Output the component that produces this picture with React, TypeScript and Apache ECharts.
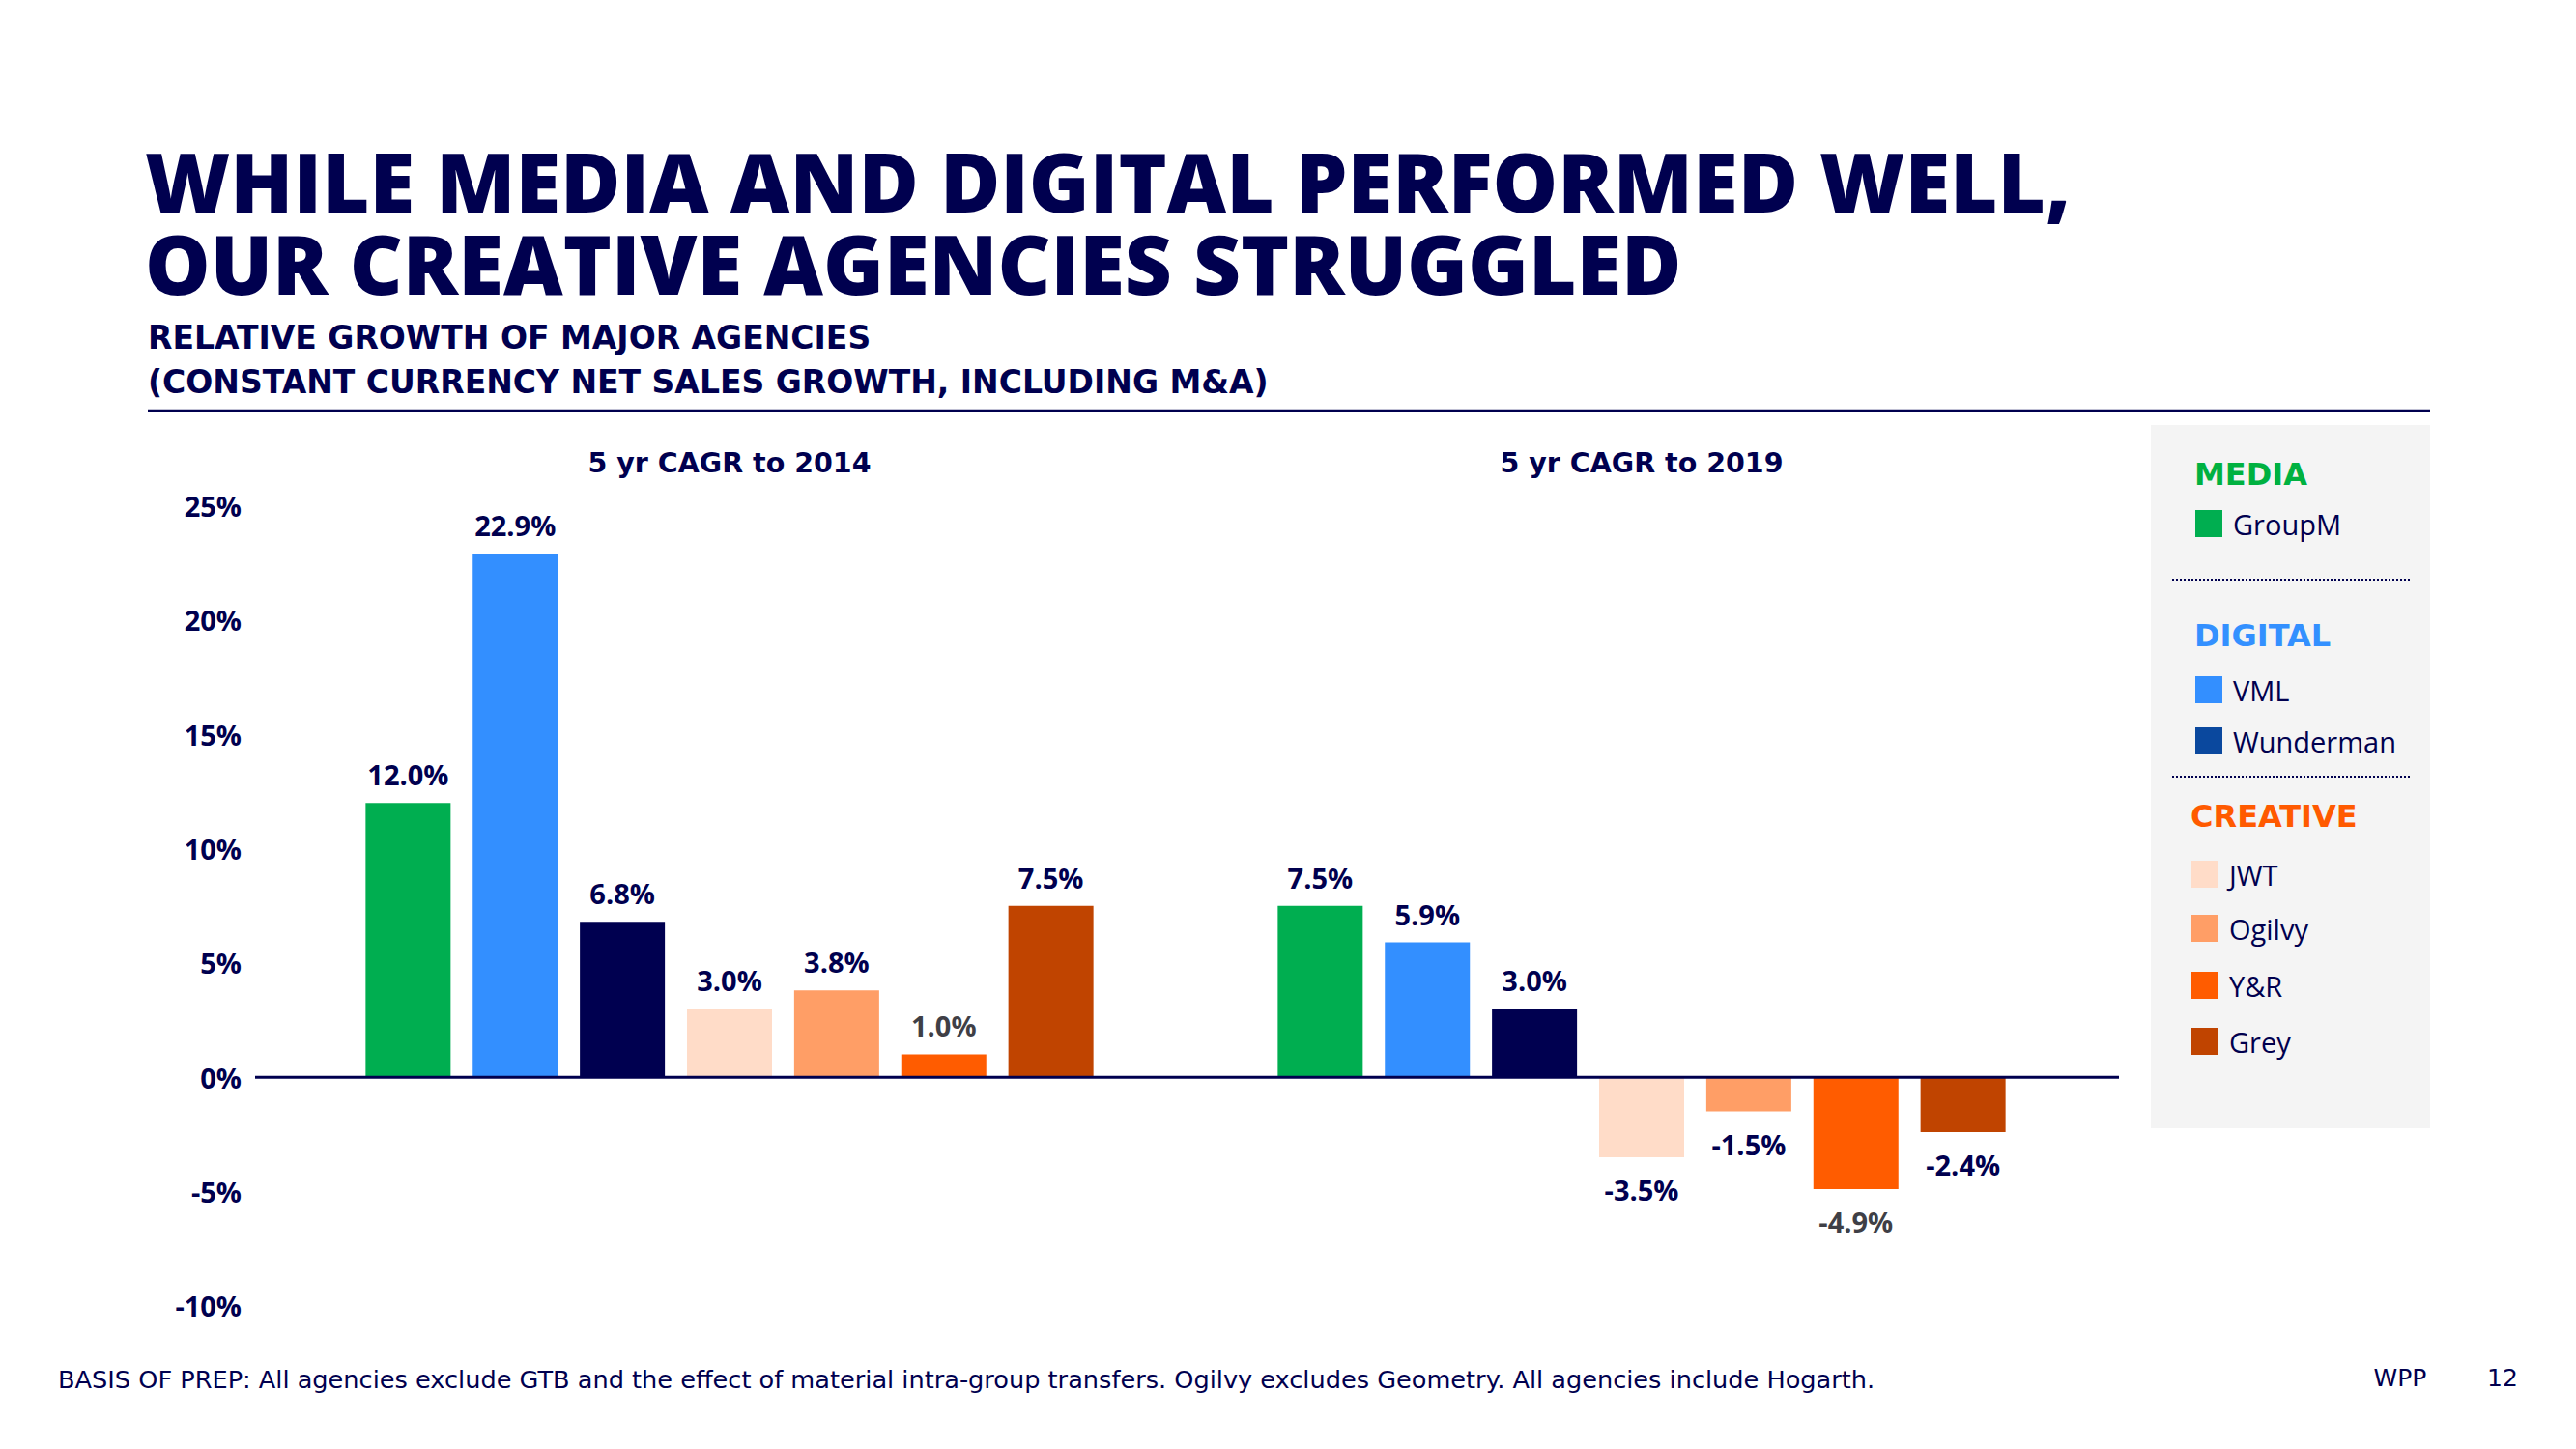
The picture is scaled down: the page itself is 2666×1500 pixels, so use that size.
import React, { useEffect, useRef } from "react";
import * as echarts from "echarts";

// ---- data ----
const agencies = ["GroupM", "VML", "Wunderman", "JWT", "Ogilvy", "Y&R", "Grey"];
const periods = ["5 yr CAGR to 2014", "5 yr CAGR to 2019"];
const cagrTo2014 = [12.0, 22.9, 6.8, 3.0, 3.8, 1.0, 7.5];
const cagrTo2019 = [7.5, 5.9, 3.0, -3.5, -1.5, -4.9, -2.4];
const yMin = -10;
const yMax = 25;
const yStep = 5;
const legendGroups = [
  { title: "MEDIA", members: ["GroupM"] },
  { title: "DIGITAL", members: ["VML", "Wunderman"] },
  { title: "CREATIVE", members: ["JWT", "Ogilvy", "Y&R", "Grey"] },
];
const titleLines = ["WHILE MEDIA AND DIGITAL PERFORMED WELL,", "OUR CREATIVE AGENCIES STRUGGLED"];
const subtitleLines = [
  "RELATIVE GROWTH OF MAJOR AGENCIES",
  "(CONSTANT CURRENCY NET SALES GROWTH, INCLUDING M&A)",
];
const footnote =
  "BASIS OF PREP: All agencies exclude GTB and the effect of material intra-group transfers. Ogilvy excludes Geometry. All agencies include Hogarth.";
const brand = "WPP";
const pageNo = "12";

// ---- styles ----
const NAVY = "#00004f";
const FONT = "Open Sans";
const WIDE = "DejaVu Sans";
const barColors: Record<string, string> = {
  GroupM: "#00ae50",
  VML: "#338fff",
  Wunderman: "#000050",
  JWT: "#ffdcc8",
  Ogilvy: "#ff9e66",
  "Y&R": "#ff5c00",
  Grey: "#c04400",
};
const legendColors: Record<string, string> = { ...barColors, Wunderman: "#0a489e" };
const groupTitleColors: Record<string, string> = {
  MEDIA: "#00b140",
  DIGITAL: "#3390ff",
  CREATIVE: "#ff5a00",
};
const labelColors: Record<string, string> = { "Y&R": "#3f3f46" };

function buildLegend(): any[] {
  const els: any[] = [
    {
      type: "rect",
      shape: { x: 2226, y: 440, width: 289, height: 728 },
      style: { fill: "#f4f4f4" },
      z: 1,
    },
  ];
  const layout = [
    { head: 491, items: [542], sep: 600, left: 2272 },
    { head: 658, items: [714, 767], sep: 804, left: 2272 },
    { head: 845, items: [905, 961, 1020, 1078], sep: null, left: 2268 },
  ];
  legendGroups.forEach((g, gi) => {
    const L = layout[gi];
    els.push({
      type: "text",
      x: L.left - 1,
      y: L.head,
      z: 3,
      style: {
        text: g.title,
        fill: groupTitleColors[g.title],
        font: `bold 32px '${WIDE}'`,
        lineHeight: 34,
        verticalAlign: "middle",
      },
    });
    g.members.forEach((m, mi) => {
      const cy = L.items[mi];
      els.push({
        type: "rect",
        z: 3,
        shape: { x: L.left, y: cy - 14, width: 28, height: 28 },
        style: { fill: legendColors[m] },
      });
      els.push({
        type: "text",
        z: 3,
        x: L.left + 39,
        y: cy,
        style: { text: m, fill: NAVY, font: `29px '${FONT}'`, lineHeight: 30, verticalAlign: "middle" },
      });
    });
    if (L.sep !== null) {
      els.push({
        type: "line",
        z: 3,
        shape: { x1: 2248, y1: L.sep, x2: 2494, y2: L.sep },
        style: { stroke: NAVY, lineWidth: 2, lineDash: [2, 2] },
      });
    }
  });
  return els;
}

export default function App() {
  const ref = useRef<HTMLDivElement>(null);
  useEffect(() => {
    document.body.style.margin = "0";
    const chart = echarts.init(ref.current!, null, { renderer: "svg" });
    const series = agencies.map((name, i) => ({
      type: "bar",
      name,
      xAxisIndex: 0,
      yAxisIndex: 0,
      barWidth: 88,
      barGap: "26%",
      itemStyle: { color: barColors[name] },
      label: {
        show: true,
        fontFamily: FONT,
        fontSize: 29,
        fontWeight: "bold",
        color: labelColors[name] || NAVY,
        formatter: (p: any) => `${Number(p.value).toFixed(1)}%`,
      },
      data: [cagrTo2014[i], cagrTo2019[i]].map((v) => ({
        value: v,
        label: { position: v < 0 ? "bottom" : "top", distance: v < 0 ? 19 : 15 },
      })),
    }));

    const titleEls = titleLines.map((t, i) => ({
      type: "text",
      x: 150,
      y: 187 + i * 85,
      style: {
        text: t,
        fill: NAVY,
        font: `800 85px '${FONT}'`,
        lineHeight: 80,
        verticalAlign: "middle",
      },
    }));
    const subEls = subtitleLines.map((t, i) => ({
      type: "text",
      x: 153,
      y: 349 + i * 46,
      style: {
        text: t,
        fill: NAVY,
        font: `bold 33px '${WIDE}'`,
        lineHeight: 36,
        verticalAlign: "middle",
      },
    }));

    const option: any = {
      animation: false,
      backgroundColor: "#ffffff",
      textStyle: { fontFamily: FONT },
      grid: { left: 283, width: 1888, top: 523.7, height: 828 },
      xAxis: [
        {
          type: "category",
          data: periods,
          axisLine: { show: false },
          axisTick: { show: false },
          axisLabel: { show: false },
        },
        {
          type: "category",
          data: periods,
          position: "top",
          axisLine: { show: false, onZero: false },
          axisTick: { show: false },
          axisLabel: {
            margin: 30,
            fontFamily: WIDE,
            fontSize: 28.5,
            fontWeight: "bold",
            color: NAVY,
          },
        },
      ],
      yAxis: {
        type: "value",
        min: yMin,
        max: yMax,
        interval: yStep,
        axisLine: { show: false },
        axisTick: { show: false },
        splitLine: { show: false },
        axisLabel: {
          margin: 33,
          formatter: "{value}%",
          fontFamily: FONT,
          fontSize: 29,
          fontWeight: "bold",
          color: NAVY,
        },
      },
      series,
      graphic: [
        ...titleEls,
        ...subEls,
        {
          id: "rule",
          type: "line",
          shape: { x1: 153, y1: 425, x2: 2515, y2: 425 },
          style: { stroke: NAVY, lineWidth: 2.5 },
        },
        ...buildLegend(),
        {
          type: "text",
          x: 60,
          y: 1428,
          style: { text: footnote, fill: NAVY, font: `25.6px '${WIDE}'`, verticalAlign: "middle" },
        },
        {
          type: "text",
          x: 2484,
          y: 1426,
          style: { text: brand, fill: NAVY, font: `25px '${WIDE}'`, align: "center", verticalAlign: "middle" },
        },
        {
          type: "text",
          x: 2590,
          y: 1426,
          style: { text: pageNo, fill: NAVY, font: `25px '${WIDE}'`, align: "center", verticalAlign: "middle" },
        },
      ],
    };
    chart.setOption(option);
    const y0 = chart.convertToPixel({ yAxisIndex: 0 }, 0) as number;
    chart.setOption({
      graphic: [
        {
          id: "zero",
          type: "line",
          z: 10,
          shape: { x1: 264, y1: y0, x2: 2193, y2: y0 },
          style: { stroke: NAVY, lineWidth: 3 },
        },
      ],
    });
    return () => chart.dispose();
  }, []);
  return <div ref={ref} style={{ width: 2666, height: 1500 }} />;
}
